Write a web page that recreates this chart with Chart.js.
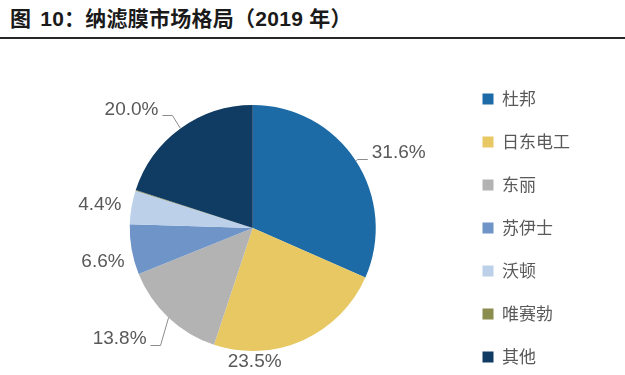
<!DOCTYPE html>
<html>
<head>
<meta charset="utf-8">
<script src="https://cdn.jsdelivr.net/npm/chart.js@4.4.0/dist/chart.umd.min.js"></script>
<style>
  html, body { margin: 0; padding: 0; background: #fff; overflow: hidden; }
  body { width: 625px; height: 375px; position: relative; }
  #titulo {
    position: absolute; left: 10px; top: 6px;
    font: bold 21px "Liberation Sans", "Noto Sans CJK SC", sans-serif;
    color: #1a1a1a; white-space: nowrap; line-height: 26px; letter-spacing: 0.25px;
  }
  #titulo span { margin-left: 9px; }
  #linha { position: absolute; left: 0; top: 37px; width: 625px; height: 2px; background: #262626; }
  #caixa { position: absolute; left: 0; top: 43px; width: 625px; height: 370px; }
</style>
</head>
<body>
<div id="titulo">图<span>10：</span>纳滤膜市场格局（2019 年）</div>
<div id="linha"></div>
<div id="caixa"><canvas id="grafico"></canvas></div>
<script>
// ========== dados ==========
const empresas = ["杜邦", "日东电工", "东丽", "苏伊士", "沃顿", "唯赛勃", "其他"];
const participacao = [31.6, 23.5, 13.8, 6.6, 4.4, 0.1, 20.0];
const cores = ["#1c6aa6", "#e7c862", "#b3b3b3", "#6e94c8", "#bdd0ea", "#8a8d4e", "#103b62"];

// ========== rotulos (estilo) ==========
// only these slices get a printed percentage
const mostrarRotulo = [true, true, true, true, true, false, true];
// label offset from the middle of each slice's outer edge
const deslocRotulo = [[16, -8], [-48, 21], [-22, 21], [-7, 12], [-10, -2], [0, 0], [-22, -19]];
const alinhamento = ["left", "center", "right", "right", "right", "left", "right"];
const comLinha = [true, false, true, false, false, false, true];

const rotulosPizza = {
  id: "rotulosPizza",
  afterDatasetsDraw(chart) {
    const ctx = chart.ctx;
    const meta = chart.getDatasetMeta(0);
    ctx.save();
    ctx.font = '19px "Liberation Sans", Arial, sans-serif';
    ctx.fillStyle = "#595959";
    ctx.strokeStyle = "#8c8c8c";
    ctx.lineWidth = 1;
    ctx.textBaseline = "middle";
    meta.data.forEach((arco, i) => {
      if (!mostrarRotulo[i]) return;
      const { x, y, startAngle, endAngle, outerRadius } = arco.getProps(
        ["x", "y", "startAngle", "endAngle", "outerRadius"],
        true
      );
      const meio = (startAngle + endAngle) / 2;
      const ax = x + Math.cos(meio) * outerRadius;
      const ay = y + Math.sin(meio) * outerRadius;
      const tx = ax + deslocRotulo[i][0];
      const ty = ay + deslocRotulo[i][1];
      if (comLinha[i]) {
        const lado = alinhamento[i] === "left" ? -1 : 1;
        const fimX = tx + lado * 4;
        const inicioX = fimX + lado * 10;
        const ly = Math.round(ty + 6) + 0.5;
        ctx.beginPath();
        ctx.moveTo(ax, ay);
        ctx.lineTo(inicioX, ly);
        ctx.lineTo(fimX, ly);
        ctx.stroke();
      }
      ctx.textAlign = alinhamento[i];
      ctx.fillText(participacao[i].toFixed(1) + "%", tx, ty);
    });
    ctx.restore();
  },
};

function plotarGrafico(idGrafico) {
  const ctx = document.getElementById(idGrafico).getContext("2d");
  let myChart = new Chart(ctx, {
    type: "pie",
    data: {
      labels: empresas,
      datasets: [
        {
          data: participacao,
          backgroundColor: cores,
          borderWidth: 0,
        },
      ],
    },
    options: {
      responsive: true,
      maintainAspectRatio: false,
      animation: false,
      radius: 123,
      layout: {
        padding: { left: 49, right: 45, top: 0, bottom: 0 },
      },
      plugins: {
        tooltip: { enabled: false },
        legend: {
          position: "right",
          labels: {
            boxWidth: 11,
            boxHeight: 11,
            padding: 26,
            color: "#595959",
            font: { family: '"Noto Sans CJK SC", sans-serif', size: 17 },
          },
        },
      },
    },
    plugins: [rotulosPizza],
  });
}

plotarGrafico("grafico");
</script>
</body>
</html>
